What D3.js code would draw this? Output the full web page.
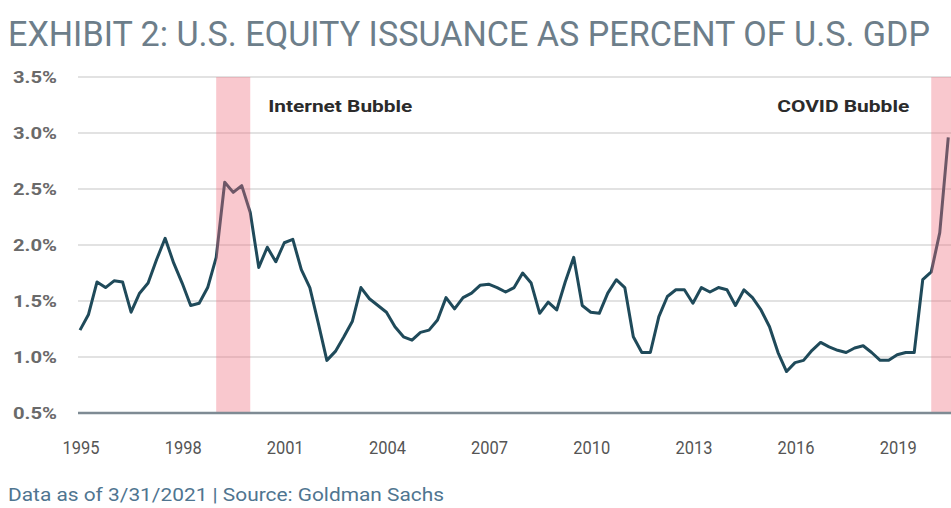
<!DOCTYPE html>
<meta charset="utf-8">
<script src="https://cdn.jsdelivr.net/npm/d3@7/dist/d3.min.js"></script>
<style>
    body { margin: 0; background: #fff; }
    svg { display: block; }
    .cond { font-family: Roboto, "DejaVu Sans", sans-serif; }
    .grid line { stroke: #e2e2e2; stroke-width: 1.5; shape-rendering: crispEdges; }
    .line { fill: none; stroke: #1f4a5a; stroke-width: 3; stroke-linejoin: round; }
</style>
<body>
<script>

    // quarterly values, first quarter of 1995 onwards (percent of GDP)
    var startYear = 1995
    var issuance = [
        1.24, 1.38, 1.67, 1.62,
        1.68, 1.67, 1.40, 1.57,
        1.66, 1.87, 2.06, 1.84,
        1.66, 1.46, 1.48, 1.62,
        1.89, 2.56, 2.47, 2.53,
        2.29, 1.80, 1.98, 1.85,
        2.02, 2.05, 1.78, 1.62,
        1.30, 0.97, 1.05, 1.18,
        1.32, 1.62, 1.52, 1.46,
        1.40, 1.27, 1.18, 1.15,
        1.22, 1.24, 1.33, 1.53,
        1.43, 1.53, 1.57, 1.64,
        1.65, 1.62, 1.58, 1.62,
        1.75, 1.66, 1.39, 1.49,
        1.42, 1.67, 1.89, 1.46,
        1.40, 1.39, 1.57, 1.69,
        1.62, 1.18, 1.04, 1.04,
        1.36, 1.54, 1.60, 1.60,
        1.48, 1.62, 1.58, 1.62,
        1.60, 1.46, 1.60, 1.53,
        1.42, 1.27, 1.04, 0.87,
        0.95, 0.97, 1.06, 1.13,
        1.09, 1.06, 1.04, 1.08,
        1.10, 1.04, 0.97, 0.97,
        1.02, 1.04, 1.04, 1.69,
        1.76, 2.11, 2.96
    ]
    var yearTicks = [1995, 1998, 2001, 2004, 2007, 2010, 2013, 2016, 2019]
    var pctTicks = [0.5, 1.0, 1.5, 2.0, 2.5, 3.0, 3.5]
    var bubbles = [
        {name: "Internet Bubble", from: 1999, to: 2000},
        {name: "COVID Bubble", from: 2020, to: 2021}
    ]

    var W = 951, H = 508
    var padLeft = 80, plotBottom = 413, plotTop = 77

    var data = issuance.map((v, i) => { return {t: startYear + i / 4, v: v} })

    var x = d3.scaleLinear().domain([1995, 2021]).range([padLeft, padLeft + 26 * 34.05])
    var y = d3.scaleLinear().domain([0.5, 3.5]).range([plotBottom, plotTop])

    var svg = d3.select("body").append("svg").attr("width", W).attr("height", H)

    svg.append("text").attr("class", "cond")
        .attr("x", 8).attr("y", 46)
        .attr("textLength", 922).attr("lengthAdjust", "spacingAndGlyphs")
        .style("font-size", "35px").style("fill", "#6d7e8a")
        .text("EXHIBIT 2: U.S. EQUITY ISSUANCE AS PERCENT OF U.S. GDP")

    // grid
    var grid = svg.append("g").attr("class", "grid")
    grid.selectAll("line").data(pctTicks.slice(1)).enter().append("line")
        .attr("x1", padLeft - 2).attr("x2", W)
        .attr("y1", (d) => y(d)).attr("y2", (d) => y(d))

    // y labels
    svg.append("g").selectAll("text").data(pctTicks).enter().append("text")
        .attr("class", "cond")
        .attr("x", 57).attr("y", (d) => y(d) + 6)
        .attr("textLength", 44).attr("lengthAdjust", "spacingAndGlyphs")
        .style("text-anchor", "end").style("font-size", "17px").style("font-weight", "bold").style("fill", "#6a6a6a")
        .text((d) => d.toFixed(1) + "%")

    // the series
    var line = d3.line().x((d) => x(d.t)).y((d) => y(d.v))
    svg.append("path").datum(data).attr("class", "line").attr("d", line)

    // bubble bands drawn over the line
    svg.append("g").selectAll("rect").data(bubbles).enter().append("rect")
        .attr("x", (d) => x(d.from)).attr("width", (d) => x(d.to) - x(d.from))
        .attr("y", plotTop).attr("height", plotBottom - plotTop)
        .style("fill", "rgba(240, 110, 125, 0.38)")

    // x axis line
    svg.append("line").attr("x1", padLeft - 2).attr("x2", W)
        .attr("y1", plotBottom).attr("y2", plotBottom)
        .style("stroke", "#7e8b94").style("stroke-width", 2.5)

    // x labels
    svg.append("g").selectAll("text").data(yearTicks).enter().append("text")
        .attr("class", "cond")
        .attr("x", (d) => x(d) + 1).attr("y", 454)
        .attr("textLength", 37).attr("lengthAdjust", "spacingAndGlyphs")
        .style("text-anchor", "middle").style("font-size", "18px").style("fill", "#555")
        .text((d) => d)

    // bubble labels
    svg.append("text").attr("class", "cond")
        .attr("x", x(bubbles[0].to) + 18).attr("y", 112)
        .attr("textLength", 144).attr("lengthAdjust", "spacingAndGlyphs")
        .style("font-size", "16px").style("font-weight", "bold").style("fill", "#2b2b2b")
        .text(bubbles[0].name)
    svg.append("text").attr("class", "cond")
        .attr("x", x(bubbles[1].from) - 22).attr("y", 112)
        .attr("textLength", 132).attr("lengthAdjust", "spacingAndGlyphs")
        .style("text-anchor", "end")
        .style("font-size", "16px").style("font-weight", "bold").style("fill", "#2b2b2b")
        .text(bubbles[1].name)

    // footer
    svg.append("text").attr("class", "cond")
        .attr("x", 8).attr("y", 501)
        .attr("textLength", 436).attr("lengthAdjust", "spacingAndGlyphs")
        .style("font-size", "18px").style("fill", "#4f7590")
        .text("Data as of 3/31/2021 | Source: Goldman Sachs")

</script>
</body>
</html>
